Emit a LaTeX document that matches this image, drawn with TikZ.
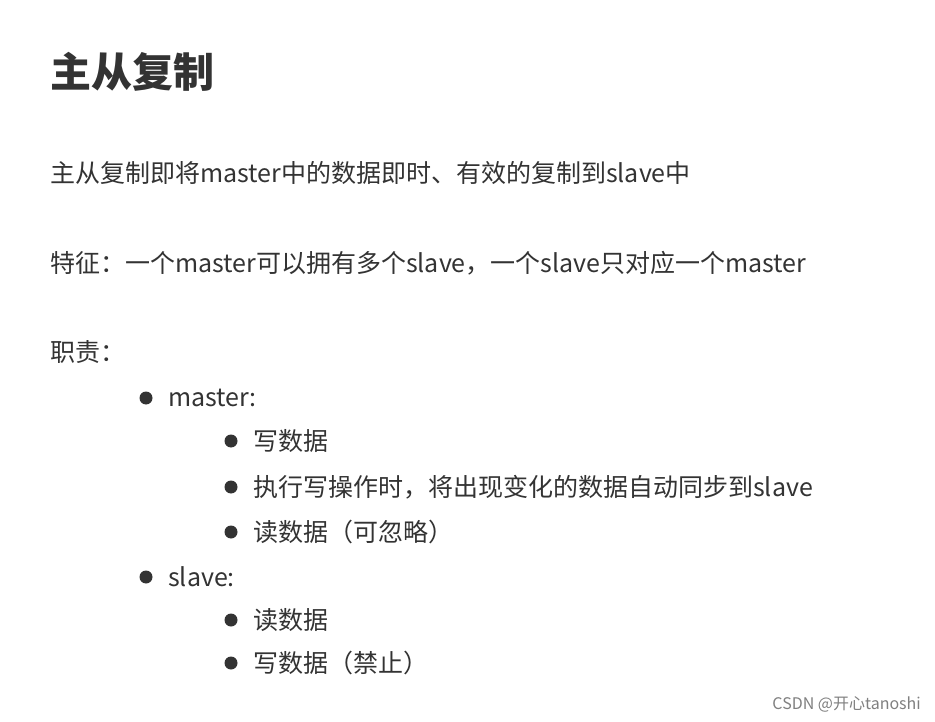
\documentclass[tikz,border=0pt]{standalone}
\usepackage{fontspec}
\setmainfont{Noto Sans CJK SC}
\definecolor{txt}{HTML}{333333}
\begin{document}
\begin{tikzpicture}[x=1pt,y=-1pt,
  t/.style={anchor=west,inner sep=0pt,text=txt,font=\fontsize{25}{28}\selectfont},
  dot/.style={circle,fill=txt,inner sep=0pt,minimum size=13pt}]
\useasboundingbox[fill=white] (0,0) rectangle (935,722);
\node[t,font=\fontsize{41}{46}\selectfont\bfseries] (title) at (50,72) {主从复制};
\node[t] (l1) at (50,173) {主从复制即将master中的数据即时、有效的复制到slave中};
\node[t] (l2) at (50,263) {特征：一个master可以拥有多个slave，一个slave只对应一个master};
\node[t] (l3) at (50,352) {职责：};
\node[dot] (b1) at (146,398) {}; \node[t] (m) at (168,398) {master:};
\node[dot] (b2) at (231,441) {}; \node[t] (m1) at (253,441) {写数据};
\node[dot] (b3) at (231,487) {}; \node[t] (m2) at (253,487) {执行写操作时，将出现变化的数据自动同步到slave};
\node[dot] (b4) at (231,532) {}; \node[t] (m3) at (253,532) {读数据（可忽略）};
\node[dot] (b5) at (146,577) {}; \node[t] (s) at (168,577) {slave:};
\node[dot] (b6) at (231,620) {}; \node[t] (s1) at (253,620) {读数据};
\node[dot] (b7) at (231,663) {}; \node[t] (s2) at (253,663) {写数据（禁止）};
\node[anchor=east,inner sep=0pt,text=gray,font=\fontsize{16}{18}\selectfont] (wm) at (921,704) {CSDN @开心tanoshi};
\end{tikzpicture}
\end{document}
